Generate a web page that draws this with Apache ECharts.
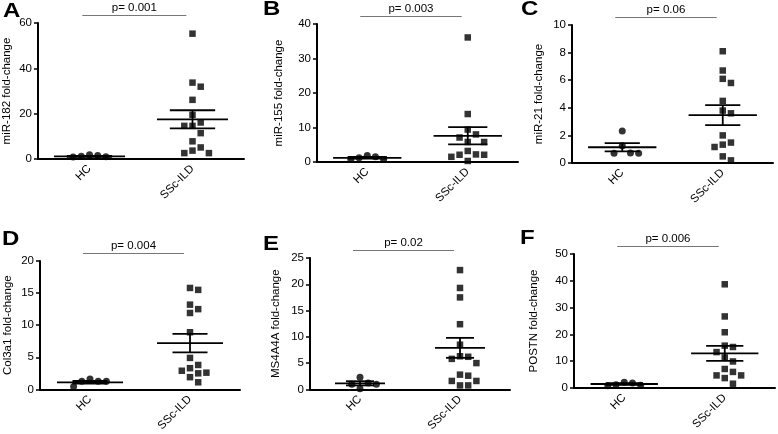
<!DOCTYPE html>
<html><head><meta charset="utf-8">
<script src="https://cdn.jsdelivr.net/npm/echarts@6/dist/echarts.min.js"></script>
<style>html,body{margin:0;padding:0;background:#fff}#c{width:778px;height:434px}</style>
</head><body><div id="c"></div>
<script>
// ---------- data ----------
const categories = ['HC', 'SSc-ILD'];
const panelLetters = ['A', 'B', 'C', 'D', 'E', 'F'];
const yAxisNames = ['miR-182 fold-change', 'miR-155 fold-change', 'miR-21 fold-change',
                    'Col3a1 fold-change', 'MS4A4A fold-change', 'POSTN fold-change'];
const pValueLabels = ['p= 0.001', 'p= 0.003', 'p= 0.06', 'p= 0.004', 'p= 0.02', 'p= 0.006'];
const yMaxValues = [60, 40, 10, 20, 25, 50];
const yTickSteps = [20, 10, 2, 5, 5, 10];

const hcA  = [1.9, 1.2, 0.9, 1.0, 1.5];
const sscA = [55.3, 33.7, 31.9, 26.1, 19.5, 16.1, 14.6, 14.6, 11.4, 7.8, 5.1, 3.7, 2.6, 2.6];
const meanA = [1.2, 17.5];  const semA = [0.2, 4.0];

const hcB  = [1.9, 1.5, 0.7, 0.7, 1.2];
const sscB = [36.1, 13.9, 9.4, 8.0, 7.1, 5.8, 5.8, 3.2, 2.1, 2.1, 2.2, 1.5, 0.3];
const meanB = [1.2, 7.6];   const semB = [0.25, 2.5];

const hcC  = [2.32, 1.25, 0.7, 0.7, 0.73];
const sscC = [8.1, 6.7, 6.1, 5.8, 4.5, 3.8, 3.6, 2.0, 1.33, 1.16, 1.48, 0.48, 0.19];
const meanC = [1.14, 3.47]; const semC = [0.3, 0.73];

const hcD  = [1.25, 1.25, 1.25, 1.6, 0.45];
const sscD = [15.8, 15.5, 13.2, 12.5, 11.9, 8.9, 4.9, 3.8, 3.3, 2.6, 2.5, 2.9, 1.9, 1.1];
const meanD = [1.1, 7.2];   const semD = [0.2, 1.45];

const hcE  = [2.3, 1.2, 0.95, 0.95, 0.1];
const sscE = [22.7, 19.3, 17.5, 12.4, 8.5, 6.2, 6.3, 5.8, 5.0, 2.8, 2.6, 1.6, 1.6, 0.75, 0.75];
const meanE = [1.15, 7.9];  const semE = [0.4, 1.9];

const hcF  = [1.9, 1.2, 0.8, 1.0, 2.1];
const sscF = [38.7, 26.7, 20.8, 15.3, 15.8, 13.4, 11.4, 9.9, 7.1, 6.0, 4.7, 4.7, 3.7, 1.6];
const meanF = [1.5, 12.9];  const semF = [0.3, 2.8];

const hcGroups   = [hcA, hcB, hcC, hcD, hcE, hcF];
const sscGroups  = [sscA, sscB, sscC, sscD, sscE, sscF];
const meanGroups = [meanA, meanB, meanC, meanD, meanE, meanF];
const semGroups  = [semA, semB, semC, semD, semE, semF];

// ---------- layout ----------
const FONT = "'Liberation Sans', Arial, Helvetica, sans-serif";
const grids = [
  {left: 38,  top: 23,  width: 206, height: 136},
  {left: 317, top: 24,  width: 201, height: 138},
  {left: 572, top: 25,  width: 201, height: 138},
  {left: 40,  top: 261, width: 200, height: 133},
  {left: 310, top: 258, width: 200, height: 133},
  {left: 574, top: 254, width: 201, height: 134}
];
const nameGaps = [25, 32, 27, 26, 28, 34];
const meanWidthFrac = [0.69, 0.68, 0.68, 0.66, 0.50, 0.67];
const capWidthFrac  = [0.44, 0.39, 0.35, 0.35, 0.28, 0.37];
const letterPos = [[3, 1], [263, -1], [521, -1], [2, 229], [263, 234], [520, 228]];

function swarmOffsets(values, pxPerUnit) {
  const step = 8.2, minDist = 8;
  const order = values.map((v, i) => i).sort((a, b) => values[b] - values[a]);
  const placed = [];
  const offs = new Array(values.length).fill(0);
  const slots = [0, 1, -1, 2, -2, 3, -3, 4, -4];
  order.forEach(i => {
    const y = values[i] * pxPerUnit;
    for (const s of slots) {
      const clash = placed.some(p => p.s === s && Math.abs(p.y - y) < minDist);
      if (!clash) { placed.push({s, y}); offs[i] = s * step; break; }
    }
  });
  return offs;
}

const option = {
  animation: false,
  backgroundColor: '#fff',
  graphic: panelLetters.map((t, i) => ({
    type: 'text', x: letterPos[i][0], y: letterPos[i][1], scaleX: 1.2,
    style: {text: t, x: 0, y: 0, textVerticalAlign: 'top', fill: '#000',
            font: 'bold 20px ' + FONT}
  })),
  grid: grids.map(g => Object.assign({containLabel: false}, g)),
  xAxis: grids.map((g, i) => ({
    type: 'category', gridIndex: i, data: categories,
    axisLine: {lineStyle: {color: '#000', width: 2}},
    axisTick: {alignWithLabel: true, length: 5, lineStyle: {color: '#000', width: 1.5}},
    axisLabel: {rotate: 45, margin: 8, fontSize: 11.5, color: '#000', fontFamily: FONT},
    splitLine: {show: false}
  })),
  yAxis: grids.map((g, i) => ({
    type: 'value', gridIndex: i, min: 0, max: yMaxValues[i], interval: yTickSteps[i],
    name: yAxisNames[i], nameLocation: 'middle', nameGap: nameGaps[i],
    nameTextStyle: {fontSize: 11.5, color: '#000', fontFamily: FONT},
    axisLine: {show: true, lineStyle: {color: '#000', width: 2}},
    axisTick: {show: true, length: 4, lineStyle: {color: '#000', width: 1.5}},
    axisLabel: {margin: 6, fontSize: 11.5, color: '#000', fontFamily: FONT},
    splitLine: {show: false}
  })),
  series: []
};

grids.forEach((g, i) => {
  const pxPerUnit = g.height / yMaxValues[i];
  const hcOff = swarmOffsets(hcGroups[i], pxPerUnit);
  const sscOff = swarmOffsets(sscGroups[i], pxPerUnit);
  option.series.push({
    type: 'scatter', xAxisIndex: i, yAxisIndex: i, symbol: 'circle', symbolSize: 7,
    itemStyle: {color: '#000'}, z: 3,
    data: hcGroups[i].map((v, k) => ({value: [0, v], symbolOffset: [hcOff[k], 0]}))
  });
  option.series.push({
    type: 'scatter', xAxisIndex: i, yAxisIndex: i, symbol: 'rect', symbolSize: 6.5,
    itemStyle: {color: '#000'}, z: 3,
    data: sscGroups[i].map((v, k) => ({value: [1, v], symbolOffset: [sscOff[k], 0]}))
  });
  const mw = meanWidthFrac[i], cw = capWidthFrac[i];
  option.series.push({
    type: 'custom', xAxisIndex: i, yAxisIndex: i, z: 4, clip: false,
    data: meanGroups[i].map((m, k) => [k, m, semGroups[i][k]]),
    renderItem: function (params, api) {
      const x = api.value(0), m = api.value(1), s = api.value(2);
      const c = api.coord([x, m]);
      const t = api.coord([x, m + s]);
      const b = api.coord([x, m - s]);
      const band = api.size([1, 0])[0];
      const st = {stroke: '#000', lineWidth: 1.8};
      return {type: 'group', children: [
        {type: 'line', shape: {x1: c[0] - band * mw / 2, y1: c[1], x2: c[0] + band * mw / 2, y2: c[1]}, style: st},
        {type: 'line', shape: {x1: c[0], y1: t[1], x2: c[0], y2: b[1]}, style: st},
        {type: 'line', shape: {x1: c[0] - band * cw / 2, y1: t[1], x2: c[0] + band * cw / 2, y2: t[1]}, style: st},
        {type: 'line', shape: {x1: c[0] - band * cw / 2, y1: b[1], x2: c[0] + band * cw / 2, y2: b[1]}, style: st}
      ]};
    }
  });
  option.series.push({
    type: 'custom', xAxisIndex: i, yAxisIndex: i, z: 4, clip: false,
    data: [[0, yMaxValues[i]]],
    renderItem: function (params, api) {
      const p0 = api.coord([0, api.value(1)]);
      const p1 = api.coord([1, api.value(1)]);
      const band = api.size([1, 0])[0];
      const y = p0[1] - 7.5;
      const xa = p0[0] - band * 0.07, xb = p1[0] - band * 0.06;
      return {type: 'group', children: [
        {type: 'line', shape: {x1: xa, y1: y, x2: xb, y2: y}, style: {stroke: '#777', lineWidth: 1.2}},
        {type: 'text', style: {text: pValueLabels[i], x: (xa + xb) / 2, y: y - 1.5,
          textAlign: 'center', textVerticalAlign: 'bottom', fontSize: 11.5, fontFamily: FONT, fill: '#000'}}
      ]};
    }
  });
});

const chart = echarts.init(document.getElementById('c'), null, {renderer: 'canvas'});
chart.setOption(option);
</script>
</body></html>
